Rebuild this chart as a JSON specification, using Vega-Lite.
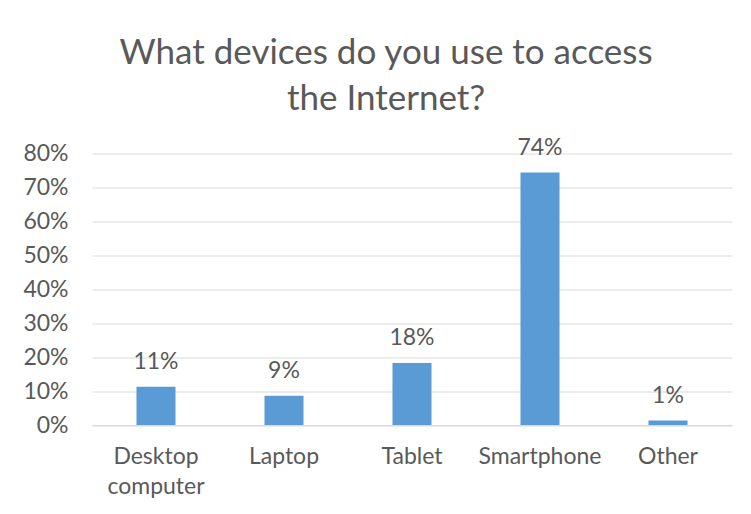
{
  "$schema": "https://vega.github.io/schema/vega-lite/v6.json",
  "width": 640,
  "height": 271.5,
  "autosize": {"type": "none"},
  "padding": {"left": 92, "top": 153.5, "right": 19, "bottom": 89},
  "background": "white",
  "title": {
    "text": ["What devices do you use to access", "the Internet?"],
    "font": "Lato",
    "fontSize": 35,
    "fontWeight": "normal",
    "color": "#595959",
    "lineHeight": 46,
    "anchor": "middle",
    "dx": -26,
    "offset": 20
  },
  "data": {
    "values": [
      {"device": "Desktop computer", "share": 0.113},
      {"device": "Laptop", "share": 0.086},
      {"device": "Tablet", "share": 0.183},
      {"device": "Smartphone", "share": 0.744},
      {"device": "Other", "share": 0.013}
    ]
  },
  "encoding": {
    "x": {
      "field": "device",
      "type": "nominal",
      "sort": null,
      "scale": {"paddingInner": 0.695, "paddingOuter": 0.3475},
      "axis": {
        "title": null,
        "labelAngle": 0,
        "labelFont": "Lato",
        "labelFontSize": 23,
        "labelColor": "#595959",
        "labelExpr": "split(datum.label, ' ')",
        "labelLineHeight": 30,
        "labelPadding": 20,
        "ticks": false,
        "domainColor": "#D9D9D9",
        "domainWidth": 1
      }
    },
    "y": {
      "field": "share",
      "type": "quantitative",
      "scale": {"domain": [0, 0.8], "nice": false},
      "axis": {
        "title": null,
        "values": [0, 0.1, 0.2, 0.3, 0.4, 0.5, 0.6, 0.7, 0.8],
        "format": ".0%",
        "labelFont": "Lato",
        "labelFontSize": 23,
        "labelColor": "#595959",
        "labelPadding": 24,
        "ticks": false,
        "domain": false,
        "gridColor": "#D9D9D9",
        "gridWidth": 1
      }
    }
  },
  "layer": [
    {"mark": {"type": "bar", "color": "#5B9BD5"}},
    {
      "mark": {"type": "text", "font": "Lato", "fontSize": 23, "color": "#595959", "baseline": "alphabetic", "dy": -18},
      "encoding": {"text": {"field": "share", "type": "quantitative", "format": ".0%"}}
    }
  ],
  "config": {"view": {"stroke": null}}
}
